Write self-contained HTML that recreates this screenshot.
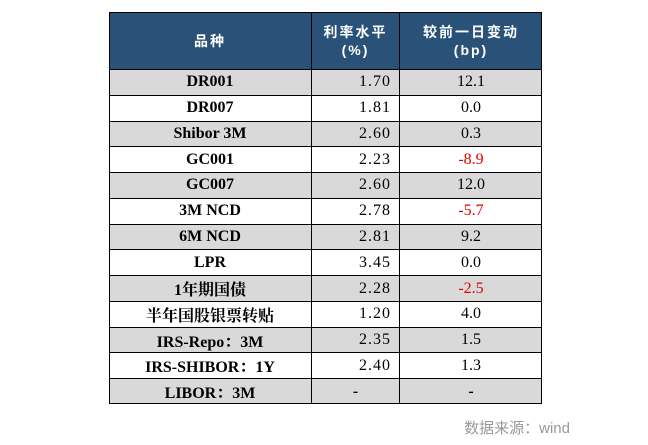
<!DOCTYPE html>
<html><head><meta charset="utf-8"><style>
body{margin:0;width:648px;height:445px;background:#fff;position:relative;overflow:hidden;font-family:"Liberation Serif","Noto Serif CJK SC",serif;}
.c{position:absolute;box-sizing:border-box;display:flex;align-items:center;justify-content:center;font-size:16px;color:#000;}
.hd{background:#2a5278;color:#fff;font-family:"Liberation Sans","Noto Sans CJK SC",sans-serif;font-weight:bold;font-size:14px;flex-direction:column;letter-spacing:2px;line-height:18px;}
.b{font-weight:bold;}
.r{color:#e00000;}
#grid{position:absolute;left:109px;top:12px;width:433px;height:392px;border:1.5px solid #000;box-sizing:border-box;}
.src{position:absolute;right:78px;top:417px;font-family:"Liberation Sans","Noto Sans CJK SC",sans-serif;font-size:15px;color:#999;}
</style></head><body>
<div id="t"></div>
<div class="src">数据来源：wind</div>
<script>
const rows=[["DR001","1.70","12.1"],["DR007","1.81","0.0"],["Shibor 3M","2.60","0.3"],["GC001","2.23","-8.9"],["GC007","2.60","12.0"],["3M NCD","2.78","-5.7"],["6M NCD","2.81","9.2"],["LPR","3.45","0.0"],["1年期国债","2.28","-2.5"],["半年国股银票转贴","1.20","4.0"],["IRS-Repo：3M","2.35","1.5"],["IRS-SHIBOR：1Y","2.40","1.3"],["LIBOR：3M","-","-"]];
const top0=69,rh=(404-69)/13;
let h='';
h+=`<div class="c hd" style="left:109px;top:12px;width:203px;height:57px;border-right:1px solid #000">品种</div>`;
h+=`<div class="c hd" style="left:312px;top:12px;width:88px;height:57px;border-right:1px solid #000"><div>利率水平</div><div>(%)</div></div>`;
h+=`<div class="c hd" style="left:400px;top:12px;width:142px;height:57px"><div>较前一日变动</div><div>(bp)</div></div>`;
rows.forEach((r,i)=>{const y=top0+i*rh;const bg=i%2==0?'#d9d9d9':'#fff';
h+=`<div class="c b" style="left:109px;top:${y}px;width:203px;height:${rh}px;background:${bg};border-top:1px solid #000;border-right:1px solid #000">${r[0]}</div>`;
h+=`<div class="c ${r[1]=='-'?'b':''}" style="left:312px;top:${y}px;width:88px;height:${rh}px;background:${bg};border-top:1px solid #000;border-right:1px solid #000;${r[1]=='-'?'':'justify-content:flex-end;padding-right:8px;letter-spacing:1px'}">${r[1]}</div>`;
h+=`<div class="c ${r[2].startsWith('-')&&r[2]!='-'?'r':''} ${r[2]=='-'?'b':''}" style="left:400px;top:${y}px;width:142px;height:${rh}px;background:${bg};border-top:1px solid #000">${r[2]}</div>`;});
h+='<div id="grid"></div>';
document.getElementById('t').innerHTML=h;
</script>
</body></html>
